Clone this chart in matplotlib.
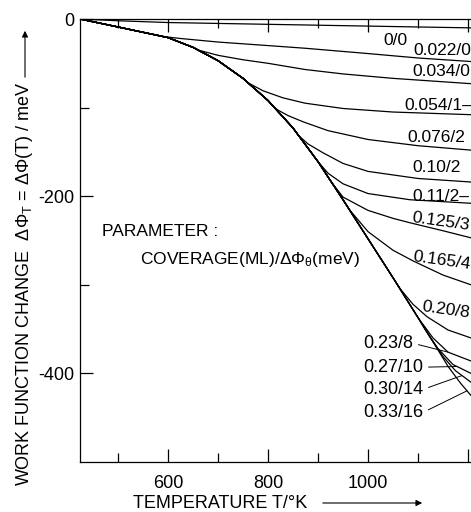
import numpy as np
import matplotlib
matplotlib.use("Agg")
import matplotlib.pyplot as plt

plt.rcParams['font.family'] = ['Liberation Sans', 'DejaVu Sans']
plt.rcParams['axes.unicode_minus'] = False
plt.rcParams['mathtext.fontset'] = 'custom'
plt.rcParams['mathtext.rm'] = 'Liberation Sans'
plt.rcParams['mathtext.it'] = 'Liberation Sans'

# Parameter: coverage (ML) / delta phi theta (meV)
coverage_labels = ["0/0", "0.022/0", "0.034/0", "0.054/1", "0.076/2", "0.10/2", "0.11/2",
                   "0.125/3", "0.165/4", "0.20/8", "0.23/8", "0.27/10", "0.30/14", "0.33/16"]

# common envelope that all curves follow at first
envelope_T = [424, 500, 550, 600, 650, 700, 750, 800, 850, 900, 950, 1000, 1050, 1100, 1150]
envelope_phi = [0, -9, -15, -21, -32, -47, -67, -92, -123, -161, -204, -248, -292, -337, -383]

# where each curve leaves the envelope
branch_T = [424, 594, 660, 760, 814, 860, 900, 924, 964, 1065, 1100, 1115, 1125, 1135]
branch_phi = [0, -20, -35, -72, -101, -131, -161, -182, -216, -305, -337, -351, -360, -369]

# the rest of each curve after the branch
tail_T = [
    [500, 600, 700, 800, 900, 1000, 1100, 1206],
    [625, 700, 800, 874, 1000, 1100, 1206],
    [700, 750, 800, 874, 950, 1050, 1206],
    [790, 830, 874, 950, 1050, 1206],
    [840, 870, 920, 1000, 1100, 1206],
    [880, 910, 950, 1000, 1100, 1206],
    [920, 950, 1000, 1084, 1206],
    [950, 1000, 1050, 1084, 1150, 1206],
    [1000, 1050, 1090, 1150, 1206],
    [1090, 1118, 1160, 1206],
    [1130, 1160, 1206],
    [1140, 1170, 1206],
    [1150, 1175, 1206],
    [1160, 1185, 1206],
]
tail_phi = [
    [-2, -4, -5, -6, -7, -8, -9, -10],
    [-22, -26, -30, -33, -39, -44, -48],
    [-41, -46, -50, -57, -62, -67, -73],
    [-81, -89, -95, -101, -105, -108],
    [-109, -116, -126, -136, -143, -148],
    [-141, -151, -163, -172, -180, -184],
    [-174, -186, -197, -204, -208],
    [-201, -216, -225, -230, -239, -247],
    [-240, -261, -273, -289, -300],
    [-322, -336, -351, -360],
    [-360, -376, -386],
    [-372, -390, -400],
    [-381, -397, -410],
    [-392, -411, -425],
]

fig = plt.figure(figsize=(4.71, 5.12), dpi=100)
ax = fig.add_axes([80 / 471, 1 - 462 / 512, 391 / 471, 443 / 512])

curves = []
for i in range(len(coverage_labels)):
    T = [t for t in envelope_T if t < branch_T[i]]
    P = envelope_phi[:len(T)]
    T = T + [branch_T[i]] + tail_T[i]
    P = P + [branch_phi[i]] + tail_phi[i]
    curves.append((T, P))
    ax.plot(T, P, color='black', lw=0.9, solid_capstyle='round')

ax.set_xlim(424, 1206)
ax.set_ylim(-500, 0)

ax.set_xticks([600, 800, 1000, 1200])
ax.set_xticklabels(['600', '800', '1000', ''])
ax.set_xticks([500, 700, 900, 1100], minor=True)
ax.set_yticks([0, -200, -400])
ax.set_yticks([-100, -300], minor=True)
ax.tick_params(which='both', direction='in', top=True, right=False, labelsize=13, colors='black', width=0.9)
ax.tick_params(which='major', length=9.5)
ax.tick_params(which='minor', length=6.5)
ax.tick_params(axis='x', pad=9)
ax.tick_params(axis='y', pad=4)
ax.spines['right'].set_visible(False)
for s in ['left', 'bottom', 'top']:
    ax.spines[s].set_linewidth(0.9)

# labels at the right ends
right_pos = [(1054, -24), (1148, -35), (1146, -59), (1140, -98), (1136, -134), (1138, -168),
             (1146, -200), (1146, -229), (1148, -273), (1156, -328)]
right_text = ["0/0", "0.022/0", "0.034/0", "0.054/1\u2013", "0.076/2", "0.10/2", "0.11/2\u2013",
              "0.125/3", "0.165/4", "0.20/8"]
right_rot = [0, 0, 0, 0, 0, 0, 0, -8, -8, -8]
for (x, y), t, r in zip(right_pos, right_text, right_rot):
    ax.text(x, y, t, fontsize=12.5, ha='center', va='center', rotation=r,
            family=['Liberation Sans Narrow', 'Liberation Sans', 'DejaVu Sans'])

# leader labels for the bundle
lead_text_y = [-366, -393, -418, -444]
lead_end_T = [1160, 1178, 1188, 1198]
for k, i in enumerate(range(10, 14)):
    T, P = curves[i]
    ye = np.interp(lead_end_T[k], T, P)
    ax.annotate(coverage_labels[i], xy=(lead_end_T[k], ye), xytext=(990, lead_text_y[k]),
                fontsize=13, ha='left', va='center',
                arrowprops=dict(arrowstyle='-', lw=0.7, color='black', relpos=(1, 0.5),
                                shrinkA=2, shrinkB=0))

ax.text(468, -240, "PARAMETER :", fontsize=12.5, ha='left', va='center')
ax.text(544, -272, "COVERAGE(ML)/\u0394\u03a6$_\\theta$(meV)", fontsize=12.5, ha='left', va='center')

# axis labels with arrows
fig.text(133 / 471, 1 - 503 / 512, "TEMPERATURE T/\u00b0K", fontsize=13, ha='left', va='center')
fig.add_artist(matplotlib.patches.FancyArrowPatch((320 / 471, 1 - 503 / 512), (425 / 471, 1 - 503 / 512),
               transform=fig.transFigure, arrowstyle='-|>', mutation_scale=9, lw=0.8, color='black'))
fig.text(25 / 471, 1 - 486 / 512, "WORK FUNCTION CHANGE  \u0394\u03a6$_\\mathrm{T}$ = \u0394\u03a6(T) / meV",
         fontsize=13, rotation=90, ha='center', va='bottom')
fig.add_artist(matplotlib.patches.FancyArrowPatch((25 / 471, 1 - 80 / 512), (25 / 471, 1 - 28 / 512),
               transform=fig.transFigure, arrowstyle='-|>', mutation_scale=9, lw=0.8, color='black'))

fig.savefig("out.png", dpi=100)
